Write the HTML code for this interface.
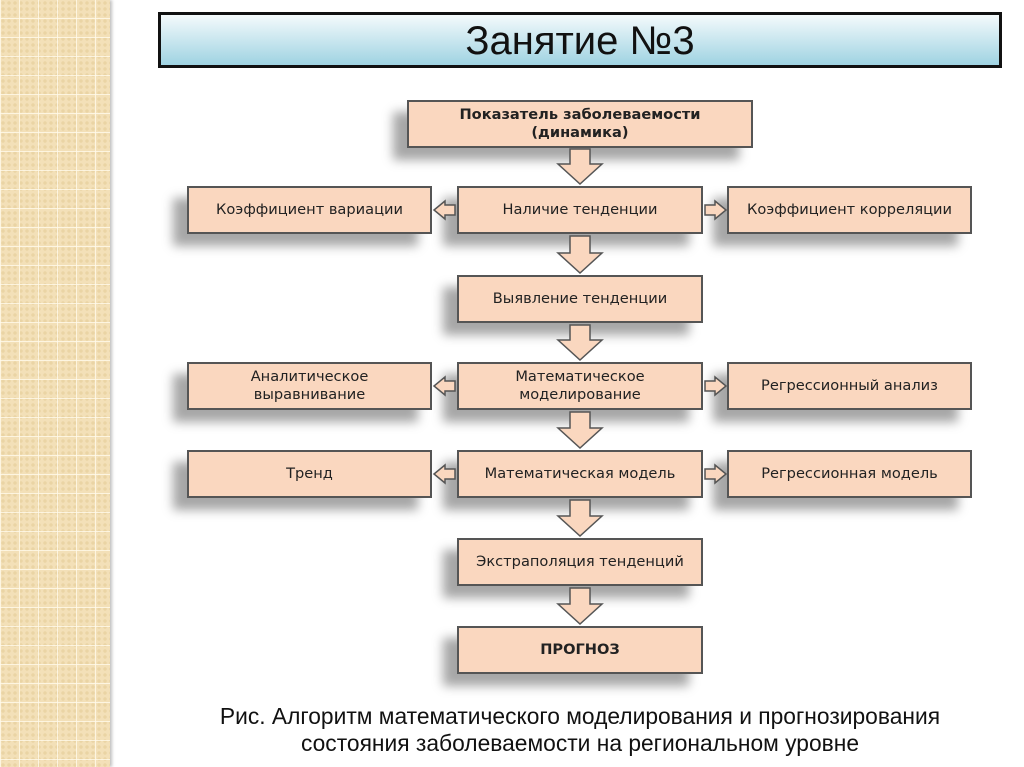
<!DOCTYPE html>
<html><head><meta charset="utf-8"><style>
html,body{margin:0;padding:0}
body{width:1024px;height:767px;position:relative;background:#fff;overflow:hidden;font-family:"DejaVu Sans","Liberation Sans",sans-serif}
.side{position:absolute;left:0;top:0;width:110px;height:767px;background-color:#f3e0b8;
background-image:linear-gradient(90deg,rgba(255,250,235,.8) 1px,transparent 1px),linear-gradient(0deg,rgba(255,250,235,.8) 1px,transparent 1px),radial-gradient(circle,#ead4a4 1.5px,transparent 2px);
background-size:19px 19px,19px 19px,6px 6px;box-shadow:2px 0 3px rgba(0,0,0,.25)}
.title{position:absolute;left:158px;top:12px;width:838px;height:50px;border:3px solid #111;background:linear-gradient(#f4fafc,#9fd3e2);
font-family:"Liberation Sans",sans-serif;font-size:40px;text-align:center;line-height:52px;color:#111}
.b{position:absolute;height:44px;border:2px solid #555;background:#fad7bf;box-shadow:-14px 12px 10px rgba(0,0,0,.35);
display:flex;align-items:center;justify-content:center;text-align:center;font-size:14.6px;line-height:18px;color:#222}
.cap{position:absolute;left:110px;width:940px;top:703px;text-align:center;font-family:"Liberation Sans",sans-serif;font-size:22.8px;line-height:27px;color:#111}
svg{position:absolute;left:0;top:0}
</style></head><body>
<div class="side"></div>
<div class="title">Занятие №3</div>
<div class="b" style="left:407px;top:100px;width:342px;font-weight:bold">Показатель заболеваемости<br>(динамика)</div>
<div class="b" style="left:187px;top:186px;width:241px">Коэффициент вариации</div>
<div class="b" style="left:457px;top:186px;width:242px">Наличие тенденции</div>
<div class="b" style="left:727px;top:186px;width:241px">Коэффициент корреляции</div>
<div class="b" style="left:457px;top:275px;width:242px">Выявление тенденции</div>
<div class="b" style="left:187px;top:362px;width:241px">Аналитическое<br>выравнивание</div>
<div class="b" style="left:457px;top:362px;width:242px">Математическое<br>моделирование</div>
<div class="b" style="left:727px;top:362px;width:241px">Регрессионный анализ</div>
<div class="b" style="left:187px;top:450px;width:241px">Тренд</div>
<div class="b" style="left:457px;top:450px;width:242px">Математическая модель</div>
<div class="b" style="left:727px;top:450px;width:241px">Регрессионная модель</div>
<div class="b" style="left:457px;top:538px;width:242px">Экстраполяция тенденций</div>
<div class="b" style="left:457px;top:626px;width:242px;font-weight:bold">ПРОГНОЗ</div>
<svg width="1024" height="767" fill="#fad7bf" stroke="#555" stroke-width="1.5">
<path d="M570 149 H590 V164 H602 L580 184 L558 164 H570 Z"/>
<path d="M570 236 H590 V253 H602 L580 273 L558 253 H570 Z"/>
<path d="M570 325 H590 V340 H602 L580 360 L558 340 H570 Z"/>
<path d="M570 412 H590 V428 H602 L580 448 L558 428 H570 Z"/>
<path d="M570 500 H590 V516 H602 L580 536 L558 516 H570 Z"/>
<path d="M570 588 H590 V604 H602 L580 624 L558 604 H570 Z"/>
<path d="M455 205 H445 V201 L434 210 L445 219 V215 H455 Z"/>
<path d="M705 205 H715 V201 L726 210 L715 219 V215 H705 Z"/>
<path d="M455 381 H445 V377 L434 386 L445 395 V391 H455 Z"/>
<path d="M705 381 H715 V377 L726 386 L715 395 V391 H705 Z"/>
<path d="M455 469 H445 V465 L434 474 L445 483 V479 H455 Z"/>
<path d="M705 469 H715 V465 L726 474 L715 483 V479 H705 Z"/>
</svg>
<div class="cap">Рис. Алгоритм математического моделирования и прогнозирования<br>состояния заболеваемости на региональном уровне</div>
</body></html>
